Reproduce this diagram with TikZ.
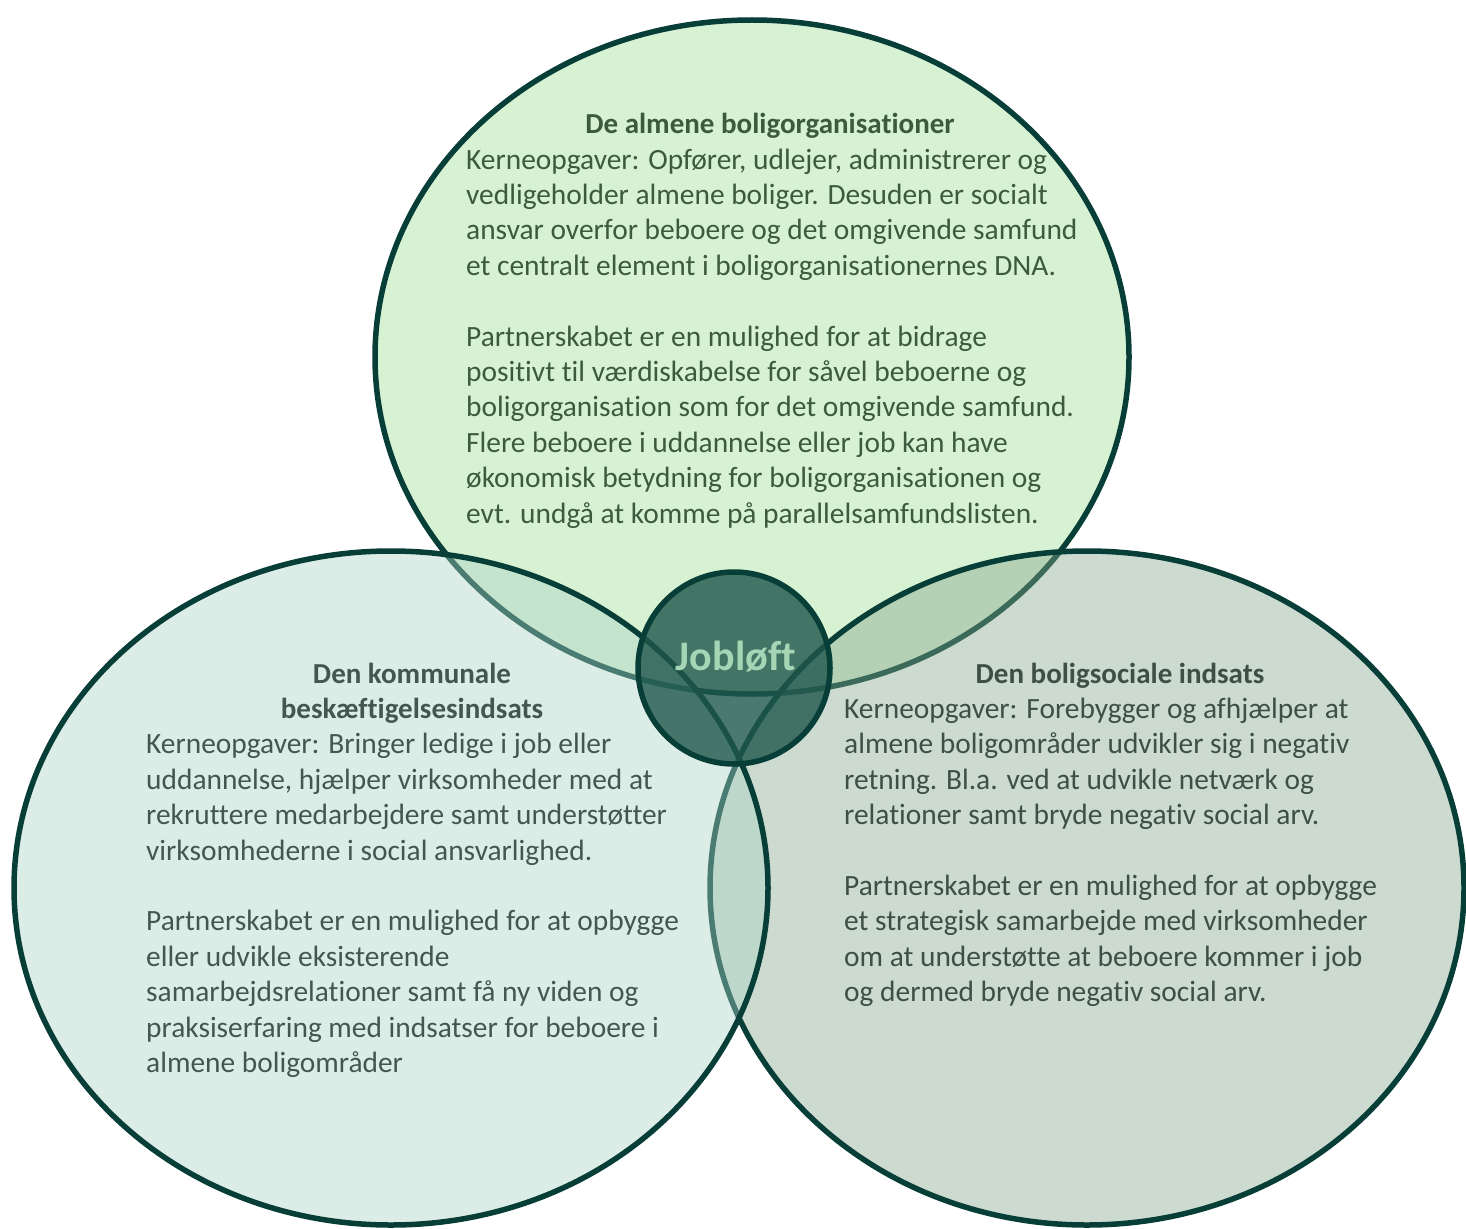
\documentclass[tikz,border=0pt]{standalone}
\usepackage{fontspec}
\setmainfont{Carlito}[Ligatures={NoCommon}]
\definecolor{ringline}{HTML}{073E37}
\definecolor{topfill}{HTML}{D7F1D3}
\definecolor{leftfill}{HTML}{ABD4C6}
\definecolor{rightfill}{HTML}{85A78F}
\definecolor{corefill}{HTML}{1F574B}
\definecolor{coretext}{HTML}{A6D5B6}
\definecolor{toptext}{HTML}{3C5A3E}
\definecolor{lefttext}{HTML}{44574F}
\definecolor{righttext}{HTML}{3E4F46}
\begin{document}
\begin{tikzpicture}[x=1pt,y=-1pt,
  ring/.style={draw=ringline, line width=5.5pt},
  bodyline/.style={anchor=base west, inner sep=0pt, font=\fontsize{29.4}{35.4}\selectfont},
  headline/.style={anchor=base, inner sep=0pt, font=\bfseries\fontsize{29}{35.4}\selectfont},
]
\useasboundingbox (0,0) rectangle (1466,1228);

% the three partner fields
\path[ring, fill=topfill] (752,357) ellipse [x radius=377pt, y radius=337pt];
\path[ring, fill=rightfill, fill opacity=0.42] (1087,888) ellipse [x radius=377pt, y radius=337pt];
\path[ring, fill=leftfill, fill opacity=0.42] (391,888) ellipse [x radius=377pt, y radius=337pt];

% shared core
\path[ring, fill=corefill, fill opacity=0.8] (734,668) circle [radius=96pt];
\node[anchor=base, inner sep=0pt, text=coretext, font=\bfseries\fontsize{42}{48}\selectfont]
  (core) at (736,670) {Jobløft};

% housing organisations
\node[headline, text=toptext] (top-head) at (770,133) {De almene boligorganisationer};
\foreach \t [count=\i from 0] in {
  {Kerneopgaver: Opfører, udlejer, administrerer og},
  {vedligeholder almene boliger. Desuden er socialt},
  {ansvar overfor beboere og det omgivende samfund},
  {et centralt element i boligorganisationernes DNA.}}
  \node[bodyline, text=toptext] (top-a\i) at (466,169+35.4*\i) {\t};
\foreach \t [count=\i from 0] in {
  {Partnerskabet er en mulighed for at bidrage},
  {positivt til værdiskabelse for såvel beboerne og},
  {boligorganisation som for det omgivende samfund.},
  {Flere beboere i uddannelse eller job kan have},
  {økonomisk betydning for boligorganisationen og},
  {evt. undgå at komme på parallelsamfundslisten.}}
  \node[bodyline, text=toptext] (top-b\i) at (466,346+35.4*\i) {\t};

% municipal employment effort
\node[headline, text=lefttext] (left-head1) at (412,683) {Den kommunale};
\node[headline, text=lefttext] (left-head2) at (412,718.4) {beskæftigelsesindsats};
\foreach \t [count=\i from 0] in {
  {Kerneopgaver: Bringer ledige i job eller},
  {uddannelse, hjælper virksomheder med at},
  {rekruttere medarbejdere samt understøtter},
  {virksomhederne i social ansvarlighed.}}
  \node[bodyline, text=lefttext] (left-a\i) at (146,753.8+35.4*\i) {\t};
\foreach \t [count=\i from 0] in {
  {Partnerskabet er en mulighed for at opbygge},
  {eller udvikle eksisterende},
  {samarbejdsrelationer samt få ny viden og},
  {praksiserfaring med indsatser for beboere i},
  {almene boligområder}}
  \node[bodyline, text=lefttext] (left-b\i) at (146,930.8+35.4*\i) {\t};

% social housing effort
\node[headline, text=righttext] (right-head) at (1120,683) {Den boligsociale indsats};
\foreach \t [count=\i from 0] in {
  {Kerneopgaver: Forebygger og afhjælper at},
  {almene boligområder udvikler sig i negativ},
  {retning. Bl.a. ved at udvikle netværk og},
  {relationer samt bryde negativ social arv.}}
  \node[bodyline, text=righttext] (right-a\i) at (844,718.4+35.4*\i) {\t};
\foreach \t [count=\i from 0] in {
  {Partnerskabet er en mulighed for at opbygge},
  {et strategisk samarbejde med virksomheder},
  {om at understøtte at beboere kommer i job},
  {og dermed bryde negativ social arv.}}
  \node[bodyline, text=righttext] (right-b\i) at (844,895.4+35.4*\i) {\t};
\end{tikzpicture}
\end{document}
